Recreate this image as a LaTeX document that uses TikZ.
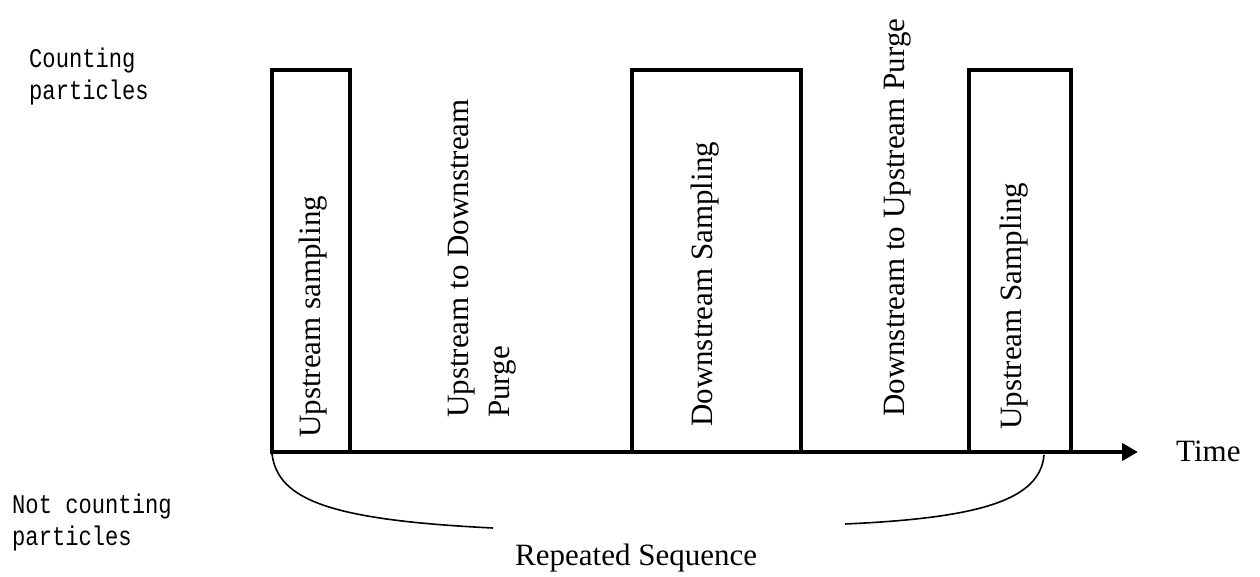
\documentclass[tikz,border=0pt]{standalone}
\usepackage{fontspec}
\setmainfont{Liberation Serif}
\newfontfamily\labelmono[FakeStretch=0.82]{Liberation Mono}
\usetikzlibrary{arrows.meta}
\tikzset{
  phasebox/.style={line width=4pt, line join=miter},
  timeaxis/.style={line width=4.5pt, -{Triangle[length=16pt,width=17pt]}},
  bracecurve/.style={line width=1.6pt},
  vlabel/.style={rotate=90, anchor=west, inner sep=0pt, font=\fontsize{31}{41}\selectfont},
  hlabel/.style={inner sep=0pt, font=\fontsize{31}{36}\selectfont},
  sidelabel/.style={inner sep=0pt, align=left, anchor=north west, font=\labelmono\fontsize{27}{32}\selectfont}
}
\begin{document}
\begin{tikzpicture}[x=1pt, y=-1pt]
  \useasboundingbox (0,0) rectangle (1260,577);

  % phase boxes standing on the time axis
  \draw[phasebox] (272,452) -- (272,70) -- (350,70) -- (350,452);
  \draw[phasebox] (632,452) -- (632,70) -- (801,70) -- (801,452);
  \draw[phasebox] (969,452) -- (969,70) -- (1071,70) -- (1071,452);

  % time axis
  \coordinate (t0) at (270,452);
  \coordinate (t1) at (1138,452);
  \draw[timeaxis] (t0) -- (t1);
  \node[hlabel, anchor=base west] (time) at (1176,461) {Time};

  % phase labels
  \node[vlabel] (us1) at (313,438) {Upstream sampling};
  \node[vlabel, align=left] (purge1) at (482,418) {Upstream to Downstream\\Purge};
  \node[vlabel] (ds) at (705,427) {Downstream Sampling};
  \node[vlabel] (purge2) at (898,417) {Downstream to Upstream Purge};
  \node[vlabel] (us2) at (1014,430) {Upstream Sampling};

  % side labels
  \node[sidelabel] (count) at (29,48) {Counting\\particles};
  \node[sidelabel] (nocount) at (12,494) {Not counting\\particles};

  % brace marking the repeated sequence
  \node[hlabel, anchor=base west] (rep) at (515,565) {Repeated Sequence};
  \coordinate (bl0) at (272,454);
  \coordinate (bl1) at (493,528);
  \coordinate (br0) at (845,524);
  \coordinate (br1) at (1044,455);
  \draw[bracecurve] (bl0) .. controls (278,500) and (330,520) .. (bl1);
  \draw[bracecurve] (br0) .. controls (980,518) and (1040,500) .. (br1);
\end{tikzpicture}
\end{document}
